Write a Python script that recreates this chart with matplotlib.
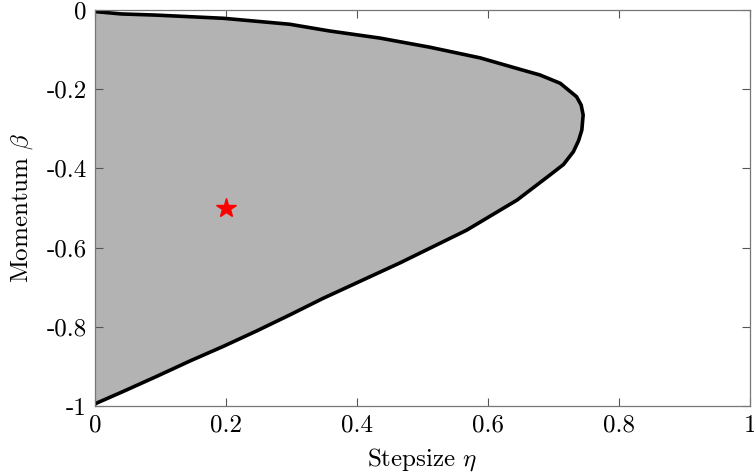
import matplotlib
matplotlib.use("Agg")
import matplotlib.pyplot as plt

# boundary of the region (top branch -> apex -> bottom branch)
eta = [0.0, 0.040, 0.094, 0.196, 0.297, 0.358, 0.435, 0.511, 0.588, 0.649,
       0.679, 0.710, 0.735, 0.742, 0.745, 0.743, 0.738, 0.730, 0.715, 0.694,
       0.644, 0.567, 0.466, 0.348, 0.297, 0.247, 0.196, 0.145, 0.094,
       0.043, 0.003, 0.0]
beta = [-0.004, -0.010, -0.013, -0.021, -0.036, -0.053, -0.071, -0.094, -0.121,
        -0.150, -0.164, -0.185, -0.219, -0.240, -0.265, -0.303, -0.330, -0.358,
        -0.390, -0.417, -0.480, -0.556, -0.638, -0.728, -0.770, -0.810,
        -0.849, -0.886, -0.925, -0.963, -0.992, -0.995]
star_eta = [0.2]
star_beta = [-0.5]
xticks = [0, 0.2, 0.4, 0.6, 0.8, 1]
xlabels = ['0', '0.2', '0.4', '0.6', '0.8', '1']
yticks = [0, -0.2, -0.4, -0.6, -0.8, -1]
ylabels = ['0', '-0.2', '-0.4', '-0.6', '-0.8', '-1']

plt.rcParams['font.family'] = 'serif'
plt.rcParams['font.serif'] = ['cmr10', 'DejaVu Serif']
plt.rcParams['mathtext.fontset'] = 'cm'
plt.rcParams['axes.unicode_minus'] = False

fig = plt.figure(figsize=(7.54, 4.75), dpi=100)
ax = fig.add_axes([0.126, 0.145, 0.869, 0.834])

ax.fill(eta, beta, color='#b3b3b3', lw=0)
ax.plot(eta, beta, color='black', lw=2.6, solid_joinstyle='round')
ax.plot(star_eta, star_beta, marker='*', color='red', ms=15, ls='none')

ax.set_xlim(0, 1)
ax.set_ylim(-1, 0)
ax.set_xticks(xticks)
ax.set_xticklabels(xlabels)
ax.set_yticks(yticks)
ax.set_yticklabels(ylabels)
ax.tick_params(direction='in', top=True, right=True, length=6, width=0.8,
               color='#555555', labelsize=18, pad=6)
for s in ax.spines.values():
    s.set_color('#777777')
    s.set_linewidth(0.9)

ax.set_xlabel(r'Stepsize $\eta$', fontsize=18, labelpad=7)
ax.set_ylabel(r'Momentum $\beta$', fontsize=18, labelpad=8)

fig.savefig('out.png', dpi=100)
